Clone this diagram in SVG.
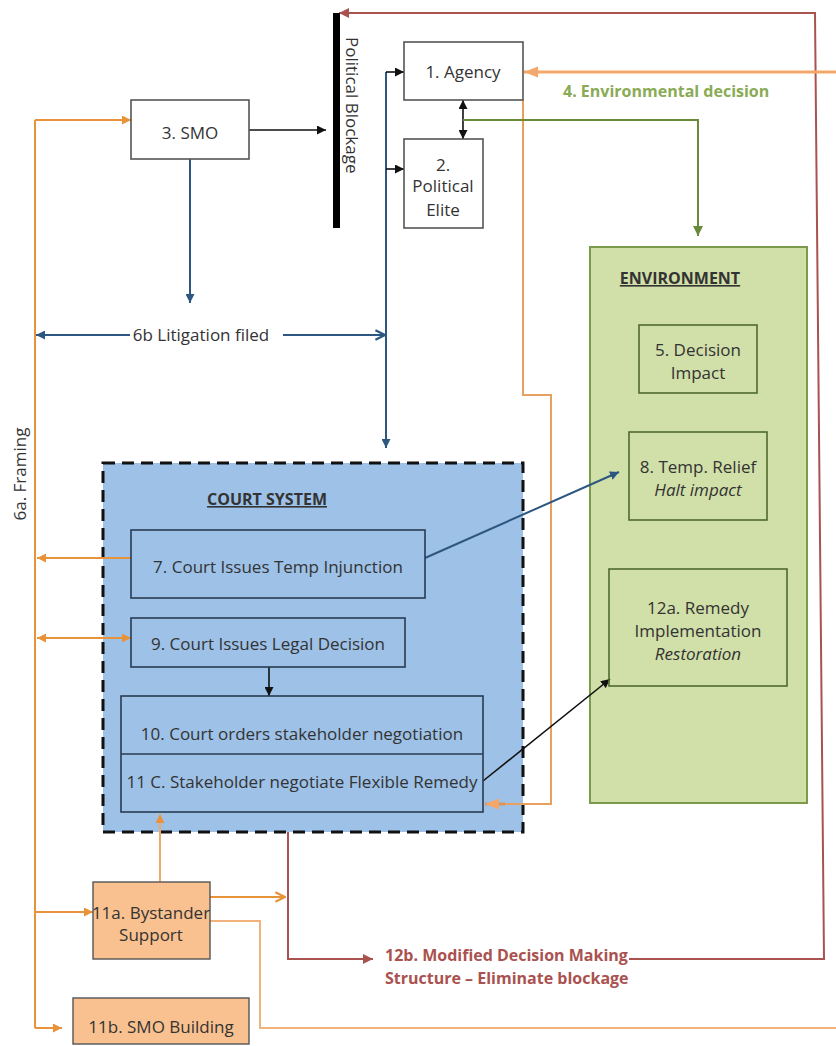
<svg xmlns="http://www.w3.org/2000/svg" width="836" height="1046" viewBox="0 0 836 1046">
<style>
text{font-family:"Open Sans","Liberation Sans",sans-serif;font-size:17px;fill:#333}
.box{fill:#fff;stroke:#555;stroke-width:1.6}
.cbox{fill:none;stroke:#2a3b52;stroke-width:1.6}
.ebox{fill:none;stroke:#4f6a2c;stroke-width:1.6}
.obox{fill:#f9c18f;stroke:#555;stroke-width:1.4}
.c{text-anchor:middle}
.it{font-style:italic}
.hd{font-weight:bold;text-decoration:underline;font-size:16px}
.lb{font-weight:bold;font-size:16px}
.or{fill:none;stroke:#e8923a;stroke-width:2}
.bl{fill:none;stroke:#2d5781;stroke-width:2}
.bk{fill:none;stroke:#111;stroke-width:1.6}
.rd{fill:none;stroke:#a9524f;stroke-width:2}
.gr{fill:none;stroke:#6a8a3a;stroke-width:2}
</style>
<defs>
<marker id="aO" viewBox="0 0 10 10" refX="10" refY="5" markerWidth="9" markerHeight="9" markerUnits="userSpaceOnUse" orient="auto-start-reverse"><path d="M0,0L10,5L0,10z" fill="#e8923a"/></marker>
<marker id="aOc" viewBox="0 0 10 10" refX="9" refY="5" markerWidth="12" markerHeight="12" markerUnits="userSpaceOnUse" orient="auto"><path d="M1,1L9,5L1,9" fill="none" stroke="#e8923a" stroke-width="1.8"/></marker>
<marker id="aOL" viewBox="0 0 10 10" refX="10" refY="5" markerWidth="14" markerHeight="14" markerUnits="userSpaceOnUse" orient="auto"><path d="M0,1L10,5L0,9z" fill="#f4a76a"/></marker>
<marker id="aB" viewBox="0 0 10 10" refX="10" refY="5" markerWidth="9" markerHeight="9" markerUnits="userSpaceOnUse" orient="auto-start-reverse"><path d="M0,0L10,5L0,10z" fill="#2d5781"/></marker>
<marker id="aBc" viewBox="0 0 10 10" refX="9" refY="5" markerWidth="12" markerHeight="12" markerUnits="userSpaceOnUse" orient="auto"><path d="M1,1L9,5L1,9" fill="none" stroke="#2d5781" stroke-width="1.8"/></marker>
<marker id="aK" viewBox="0 0 10 10" refX="10" refY="5" markerWidth="9" markerHeight="9" markerUnits="userSpaceOnUse" orient="auto-start-reverse"><path d="M0,0L10,5L0,10z" fill="#111"/></marker>
<marker id="aR" viewBox="0 0 10 10" refX="10" refY="5" markerWidth="10" markerHeight="10" markerUnits="userSpaceOnUse" orient="auto"><path d="M0,0L10,5L0,10z" fill="#a9524f"/></marker>
<marker id="aG" viewBox="0 0 10 10" refX="10" refY="5" markerWidth="10" markerHeight="10" markerUnits="userSpaceOnUse" orient="auto"><path d="M0,0L10,5L0,10z" fill="#6a8a3a"/></marker>
</defs>
<rect width="836" height="1046" fill="#fff"/>

<!-- containers -->
<g id="environment">
<rect x="590" y="247" width="217" height="556" fill="#d1dfa8" stroke="#7b9a4c" stroke-width="2"/>
<text x="680" y="284" class="c hd" fill="#2a2a2a">ENVIRONMENT</text>
</g>
<g id="court-system">
<rect x="103" y="463" width="420" height="369" fill="#9dc1e7" stroke="#111" stroke-width="3" stroke-dasharray="12,7"/>
<text x="267" y="505" class="c hd">COURT SYSTEM</text>
</g>

<g id="connectors">
<!-- red feedback loop -->
<polyline class="rd" points="288,832 288,959 373,959" marker-end="url(#aR)"/>
<polyline class="rd" points="629,959 824,959 815,13 339,13" marker-end="url(#aR)"/>
<!-- orange framing trunk -->
<line class="or" x1="35" y1="120" x2="35" y2="1028"/>
<polyline class="or" points="35,120 131,120" marker-end="url(#aO)"/>
<line class="or" x1="131" y1="558" x2="37" y2="558" marker-end="url(#aO)"/>
<line class="or" x1="37" y1="638" x2="131" y2="638" marker-start="url(#aO)" marker-end="url(#aO)"/>
<line class="or" x1="35" y1="912" x2="93" y2="912" marker-end="url(#aO)"/>
<line class="or" x1="35" y1="1028" x2="62" y2="1028" marker-end="url(#aO)"/>
<!-- bystander -->
<line stroke="#f0a868" stroke-width="2" x1="160" y1="882" x2="160" y2="814" marker-end="url(#aO)"/>
<line class="or" stroke-width="3" x1="210" y1="897" x2="285" y2="897" marker-end="url(#aOc)"/>
<polyline fill="none" stroke="#f0b27a" stroke-width="2" points="210,921 260,921 260,1028 836,1028"/>
<!-- agency orange -->
<line stroke="#f4a76a" stroke-width="3" x1="836" y1="72" x2="524" y2="72" marker-end="url(#aOL)"/>
<polyline fill="none" stroke="#e8a060" stroke-width="2" points="523,100 523,395 551,395 551,804 500,804"/>
<line stroke="#d8955c" stroke-width="3" x1="505" y1="804" x2="485" y2="804" marker-end="url(#aOL)"/>
<!-- blue -->
<line class="bl" x1="386" y1="72" x2="386" y2="448" marker-end="url(#aB)"/>
<line class="bk" x1="386" y1="72" x2="404" y2="72" marker-end="url(#aK)"/>
<line class="bk" x1="386" y1="169" x2="404" y2="169" marker-end="url(#aK)"/>
<line class="bl" x1="190" y1="159" x2="190" y2="303" marker-end="url(#aB)"/>
<line class="bl" x1="130" y1="335" x2="36" y2="335" marker-end="url(#aB)"/>
<line class="bl" x1="283" y1="335" x2="385" y2="335" marker-end="url(#aBc)"/>
<line class="bl" x1="425" y1="558" x2="619" y2="472" marker-end="url(#aB)"/>
<!-- black -->
<line class="bk" stroke-width="2" x1="249" y1="130" x2="326" y2="130" marker-end="url(#aK)"/>
<line class="bk" x1="463" y1="100" x2="463" y2="139" marker-start="url(#aK)" marker-end="url(#aK)"/>
<line class="bk" x1="269" y1="667" x2="269" y2="696" marker-end="url(#aK)"/>
<line class="bk" stroke-width="2" x1="483" y1="781" x2="610" y2="679" marker-end="url(#aK)"/>
<!-- green decision -->
<polyline class="gr" points="463,120 698,120 698,236" marker-end="url(#aG)"/>
</g>

<g id="political-blockage">
<rect x="333" y="13" width="7" height="215" fill="#000"/>
<text transform="translate(346,37) rotate(90)">Political Blockage</text>
</g>
<g id="agency">
<rect class="box" x="404" y="42" width="119" height="58"/>
<text x="463" y="78" class="c">1. Agency</text>
</g>
<g id="political-elite">
<rect class="box" x="404" y="139" width="79" height="89"/>
<text x="443" y="171" class="c">2.</text>
<text x="443" y="192" class="c">Political</text>
<text x="443" y="216" class="c">Elite</text>
</g>
<g id="smo">
<rect class="box" x="131" y="100" width="118" height="59"/>
<text x="190" y="139" class="c">3. SMO</text>
</g>
<g id="label-4">
<text x="563" y="97" class="lb" style="fill:#8aab55">4. Environmental decision</text>
</g>
<g id="label-6b">
<text x="201" y="341" class="c">6b Litigation filed</text>
</g>
<g id="label-6a">
<text transform="translate(26,474) rotate(-90)" class="c">6a. Framing</text>
</g>
<g id="decision-impact">
<rect class="ebox" x="639" y="325" width="118" height="68"/>
<text x="698" y="356" class="c">5. Decision</text>
<text x="698" y="379" class="c">Impact</text>
</g>
<g id="temp-relief">
<rect class="ebox" x="629" y="432" width="138" height="88"/>
<text x="698" y="473" class="c">8. Temp. Relief</text>
<text x="698" y="496" class="c it">Halt impact</text>
</g>
<g id="remedy-implementation">
<rect class="ebox" x="609" y="569" width="178" height="117"/>
<text x="698" y="614" class="c">12a. Remedy</text>
<text x="698" y="637" class="c">Implementation</text>
<text x="698" y="660" class="c it">Restoration</text>
</g>
<g id="temp-injunction">
<rect class="cbox" x="131" y="530" width="294" height="68"/>
<text x="278" y="573" class="c">7. Court Issues Temp Injunction</text>
</g>
<g id="legal-decision">
<rect class="cbox" x="131" y="618" width="274" height="49"/>
<text x="268" y="650" class="c">9. Court Issues Legal Decision</text>
</g>
<g id="negotiation">
<rect class="cbox" x="121" y="696" width="362" height="116"/>
<line class="cbox" x1="121" y1="754" x2="483" y2="754"/>
<text x="302" y="740" class="c">10. Court orders stakeholder negotiation</text>
<text x="302" y="788" class="c">11 C. Stakeholder negotiate Flexible Remedy</text>
</g>
<g id="bystander-support">
<rect class="obox" x="93" y="882" width="117" height="77"/>
<text x="151" y="919" class="c">11a. Bystander</text>
<text x="151" y="941" class="c">Support</text>
</g>
<g id="smo-building">
<rect class="obox" x="73" y="998" width="176" height="46"/>
<text x="161" y="1033" class="c">11b. SMO Building</text>
</g>
<g id="label-12b">
<text x="385" y="961" class="lb" style="fill:#a9524f">12b. Modified Decision Making</text>
<text x="385" y="984" class="lb" style="fill:#a9524f">Structure – Eliminate blockage</text>
</g>
</svg>
